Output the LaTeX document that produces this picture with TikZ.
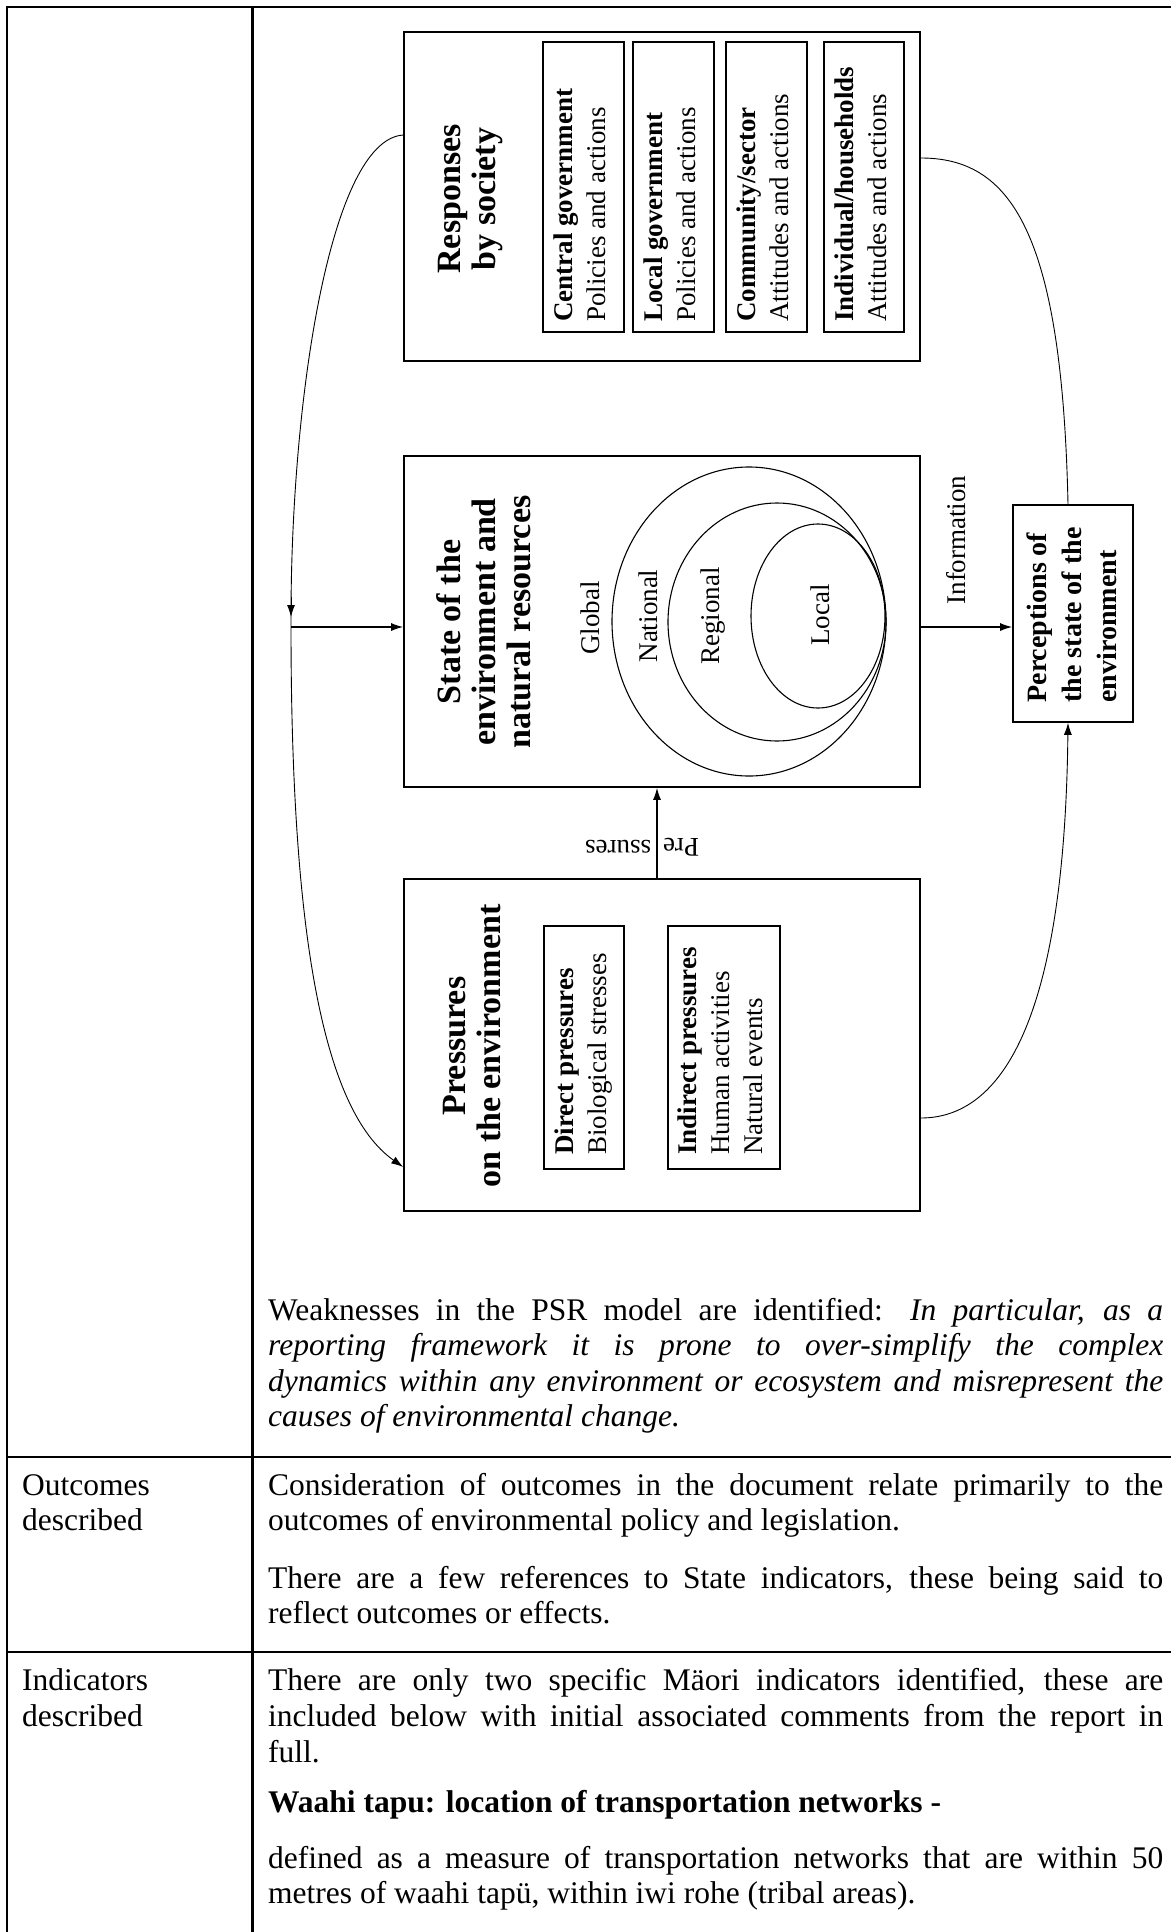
\documentclass[tikz,border=0pt]{standalone}
\usepackage{fontspec}
\setmainfont{Liberation Serif}
\usetikzlibrary{arrows.meta}
\tikzset{
  box/.style={draw, line width=1.6pt, inner sep=0pt},
  subbox/.style={draw, line width=1.5pt, inner sep=0pt},
  vtxt/.style={rotate=90, inner sep=0pt, align=left, font=\fontsize{27}{33}\selectfont},
  lbl/.style={rotate=90, inner sep=0pt, font=\fontsize{27}{33}\selectfont},
  ttl/.style={rotate=90, inner sep=0pt, align=center, font=\fontsize{34}{35}\selectfont\bfseries},
  curve/.style={line width=0.9pt},
  arr/.style={-{Latex[length=12pt,width=8pt]}},
  body/.style={anchor=base west, inner sep=0pt, text width=895pt, align=justify, font=\fontsize{31.5}{35.5}\selectfont},
  lab/.style={anchor=base west, inner sep=0pt, text width=220pt, align=left, font=\fontsize{31.5}{35.5}\selectfont},
  rule/.style={line width=2.2pt},
}
\begin{document}
\begin{tikzpicture}[x=1pt,y=-1pt]
\useasboundingbox[fill=white] (0,0) rectangle (1171,1932);
% table rules
\draw[rule] (6,7) -- (1171,7);
\draw[rule] (7,6) -- (7,1932);
\draw[rule] (252.5,6) -- (252.5,1932);
\draw[rule] (6,1457) -- (1171,1457);
\draw[rule] (6,1652) -- (1171,1652);

% --- Responses by society
\node[box, minimum width=516pt, minimum height=329pt] (resp) at (662,196.5) {};
\node[ttl] (respT) at (471,199) {Responses\\by society};
\node[subbox, minimum width=81pt, minimum height=290pt] (cg) at (583.5,187) {};
\node[subbox, minimum width=81pt, minimum height=290pt] (lg) at (673.5,187) {};
\node[subbox, minimum width=81pt, minimum height=290pt] (cs) at (766.5,187) {};
\node[subbox, minimum width=80pt, minimum height=290pt] (ih) at (864,187) {};
\node[vtxt, anchor=west] (cgT) at (580,322) {\textbf{Central government}\\Policies and actions};
\node[vtxt, anchor=west] (lgT) at (670,322) {\textbf{Local government}\\Policies and actions};
\node[vtxt, anchor=west] (csT) at (763,322) {\textbf{Community/sector}\\Attitudes and actions};
\node[vtxt, anchor=west] (ihT) at (861,322) {\textbf{Individual/households}\\Attitudes and actions};

% --- State of the environment
\node[box, minimum width=516pt, minimum height=331pt] (state) at (662,621.5) {};
\node[ttl] (stateT) at (484,622) {State of the\\environment and\\natural resources};
\draw[line width=1.1pt] (749,621.5) ellipse [x radius=137, y radius=154.5];
\draw[line width=1.1pt] (777,622) ellipse [x radius=109, y radius=119];
\draw[line width=1.1pt] (818,616) ellipse [x radius=67, y radius=92];
\node[lbl] (glob) at (590,618) {Global};
\node[lbl] (nat) at (648,616) {National};
\node[lbl] (reg) at (713,616) {Regional};
\node[lbl] (loc) at (820,615) {Local};

% --- Pressures
\node[box, minimum width=516pt, minimum height=332pt] (press) at (662,1045) {};
\node[ttl] (pressT) at (472,1046) {Pressures\\on the environment};
\node[subbox, minimum width=80pt, minimum height=243pt] (dp) at (584,1047.5) {};
\node[subbox, minimum width=112pt, minimum height=243pt] (ip) at (724,1047.5) {};
\node[vtxt, anchor=west] (dpT) at (584,1155) {\textbf{Direct pressures}\\Biological stresses};
\node[vtxt, anchor=west] (ipT) at (720,1155) {\textbf{Indirect pressures}\\Human activities\\Natural events};

% --- Perceptions
\node[box, minimum width=120pt, minimum height=217pt] (perc) at (1073,613.5) {};
\node[ttl, align=left, font=\fontsize{28}{35}\selectfont\bfseries] (percT) at (1072,615) {Perceptions of\\the state of the\\environment};

% --- connectors
\coordinate (jn) at (291,627);
\draw[arr, line width=1.3pt] ([xshift=-5pt]press.north) -- ([xshift=-5pt]state.south);
\node[lbl, rotate=90] (preA) at (681,847) {Pre};
\node[lbl, rotate=90] (preB) at (618,847) {ssures};
\draw[arr, line width=1.3pt] (state.east |- jn) -- (perc.west |- jn);
\node[lbl] (info) at (956,540) {Information};
\draw[arr, line width=1.3pt] (jn) -- (state.west |- jn);
\draw[curve] ([yshift=61.5pt]resp.west) .. controls (330,140) and (291,400) .. ([yshift=10pt]jn);
\draw[curve, arr] ([yshift=30pt]jn) -- ([yshift=10pt]jn);
\draw[curve, arr] ([yshift=10pt]jn) -- (jn) .. controls (291,930) and (322,1110) .. ([yshift=-122pt]press.west);
\draw[curve] ([yshift=38.5pt]resp.east) .. controls (1010,158) and (1062,230) .. ([xshift=-5pt]perc.north);
\draw[curve, arr] ([yshift=-73pt]press.east) .. controls (1010,1118) and (1065,1000) .. ([xshift=-5pt]perc.south);

% --- text cells
\node[body] (weak) at (268,1320) {Weaknesses in the PSR model are identified: \textit{In particular, as a\linebreak reporting framework it is prone to over-simplify the complex\linebreak dynamics within any environment or ecosystem and misrepresent the\linebreak causes of environmental change.}};
\node[lab] (outL) at (22,1495) {Outcomes\\described};
\node[body] (cons) at (268,1495) {Consideration of outcomes in the document relate primarily to the\linebreak outcomes of environmental policy and legislation.};
\node[body] (few) at (268,1588) {There are a few references to State indicators, these being said to\linebreak reflect outcomes or effects.};
\node[lab, font=\fontsize{31.5}{36.5}\selectfont] (indL) at (22,1690) {Indicators\\described};
\node[body, font=\fontsize{31.5}{36}\selectfont] (two) at (268,1690) {There are only two specific Mäori indicators identified, these are\linebreak included below with initial associated comments from the report in\linebreak full.};
\node[body] (waahi) at (268,1812) {\textbf{Waahi tapu: location of transportation networks -}};
\node[body] (defd) at (268,1868) {defined as a measure of transportation networks that are within 50\linebreak metres of waahi tapü, within iwi rohe (tribal areas).};
\end{tikzpicture}
\end{document}
